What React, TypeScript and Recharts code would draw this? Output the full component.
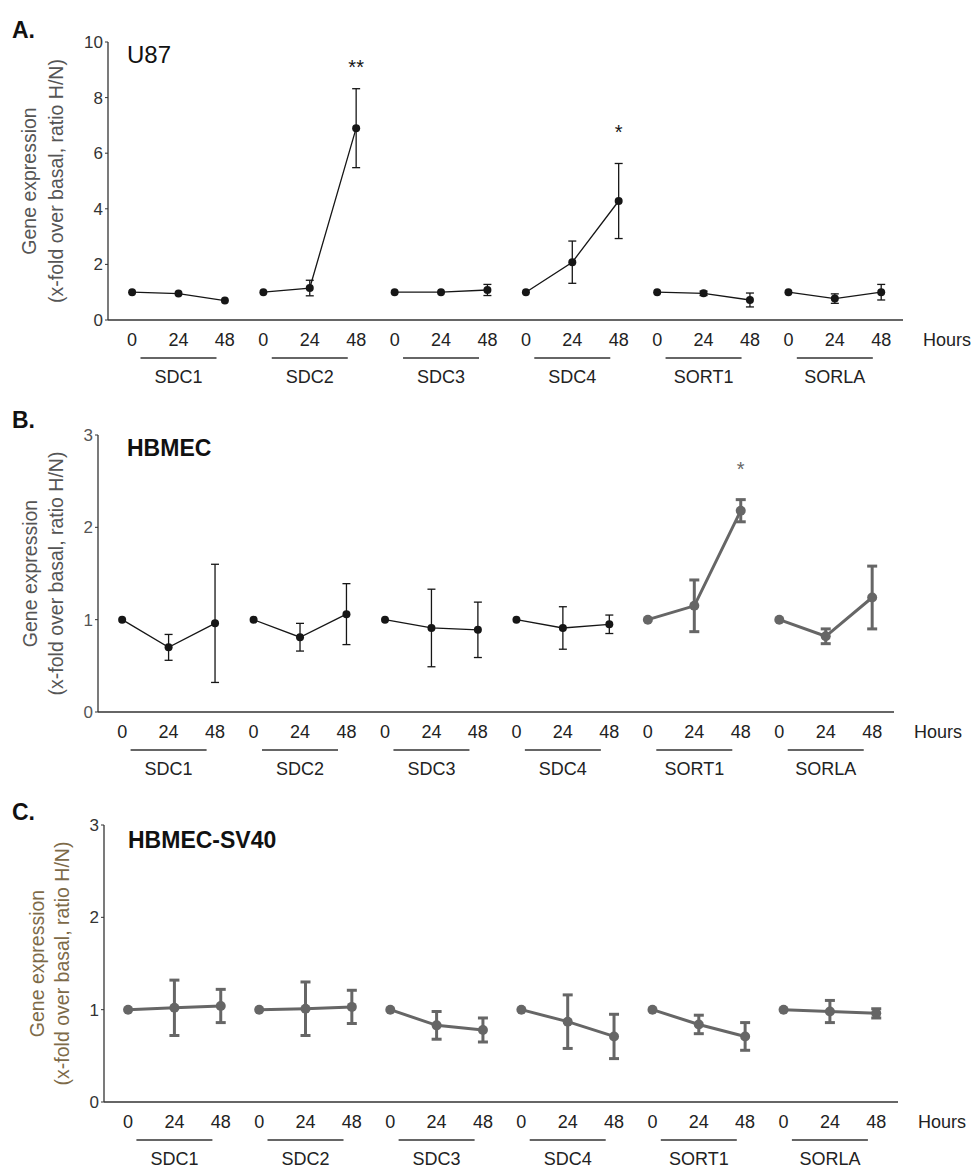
import React from "react"
import { LineChart, Line, XAxis, YAxis, ErrorBar, ReferenceDot } from "recharts"

const GENES = ["SDC1", "SDC2", "SDC3", "SDC4", "SORT1", "SORLA"]
const HOURS = [0, 24, 48]

// mean and SEM per gene (rows) at 0 / 24 / 48 h
const u87Mean = [[1.0, 0.95, 0.7], [1.0, 1.15, 6.9], [1.0, 1.0, 1.08], [1.0, 2.08, 4.28], [1.0, 0.96, 0.72], [1.0, 0.77, 1.0]]
const u87Err = [[0, 0, 0], [0, 0.28, 1.42], [0, 0, 0.2], [0, 0.76, 1.35], [0, 0.08, 0.25], [0, 0.17, 0.28]]
const hbmecMean = [[1.0, 0.7, 0.96], [1.0, 0.81, 1.06], [1.0, 0.91, 0.89], [1.0, 0.91, 0.95], [1.0, 1.15, 2.18], [1.0, 0.82, 1.24]]
const hbmecErr = [[0, 0.14, 0.64], [0, 0.15, 0.33], [0, 0.42, 0.3], [0, 0.23, 0.1], [0, 0.28, 0.12], [0, 0.08, 0.34]]
const sv40Mean = [[1.0, 1.02, 1.04], [1.0, 1.01, 1.03], [1.0, 0.83, 0.78], [1.0, 0.87, 0.71], [1.0, 0.84, 0.71], [1.0, 0.98, 0.96]]
const sv40Err = [[0, 0.3, 0.18], [0, 0.29, 0.18], [0, 0.15, 0.13], [0, 0.29, 0.24], [0, 0.1, 0.15], [0, 0.12, 0.05]]

const u87Stars = [{ gene: "SDC2", hour: 48, y: 9.25, text: "**" }, { gene: "SDC4", hour: 48, y: 6.9, text: "*" }]
const hbmecStars = [{ gene: "SORT1", hour: 48, y: 2.68, text: "*" }]

const GROUP_STEP = 2.83
const X_DOMAIN = [-0.52, 16.62]
const BLACK = "#161616"
const GREY = "#666666"
const FONT = "'Liberation Sans', Arial, sans-serif"

const xPos = (gi: number, hi: number) => gi * GROUP_STEP + hi

function buildRows(mean: number[][], err: number[][]) {
  const rows: Record<string, number>[] = []
  GENES.forEach((g, gi) =>
    HOURS.forEach((h, hi) => {
      rows.push({ x: xPos(gi, hi), hour: h, [g]: mean[gi][hi], [g + "_err"]: err[gi][hi] })
    })
  )
  return rows
}

function GroupTick(props: any) {
  const { x, y, payload } = props
  const gi = Math.floor(payload.value / GROUP_STEP + 0.01)
  const hi = Math.round(payload.value - gi * GROUP_STEP)
  return (
    <g>
      <text x={x} y={y + 20} textAnchor="middle" dominantBaseline="central" fontSize={18} fill="#222">
        {HOURS[hi]}
      </text>
      {hi === 1 && (
        <>
          <line x1={x - 38} x2={x + 38} y1={y + 38} y2={y + 38} stroke="#333" strokeWidth={1.5} />
          <text x={x} y={y + 57} textAnchor="middle" dominantBaseline="central" fontSize={18} fill="#222">
            {GENES[gi]}
          </text>
        </>
      )}
    </g>
  )
}

interface PanelCfg {
  top: number
  height: number
  plotTop: number
  plotBottom: number
  left: number
  right: number
  yDomain: number[]
  yTicks: number[]
  mean: number[][]
  err: number[][]
  stars: { gene: string; hour: number; y: number; text: string }[]
  greyFrom: number
  labelX: number[]
  labelColor: string
  tickColor: string
}

function Panel({ cfg }: { cfg: PanelCfg }) {
  const rows = buildRows(cfg.mean, cfg.err)
  const ticks = rows.map((r) => r.x)

  const yLabel = (p: any) => {
    const vb = p.viewBox
    const cy = vb.y + vb.height / 2
    const [x1, x2] = cfg.labelX
    return (
      <g fill={cfg.labelColor} fontSize={19.5}>
        <text x={x1} y={cy} transform={`rotate(-90, ${x1}, ${cy})`} textAnchor="middle" dominantBaseline="central">
          Gene expression
        </text>
        <text x={x2} y={cy} transform={`rotate(-90, ${x2}, ${cy})`} textAnchor="middle" dominantBaseline="central">
          (x-fold over basal, ratio H/N)
        </text>
      </g>
    )
  }

  const hoursLabel = (p: any) => {
    const vb = p.viewBox
    return (
      <text x={vb.x + vb.width + 20} y={vb.y + 20} dominantBaseline="central" fontSize={18} fill="#222">
        Hours
      </text>
    )
  }

  return (
    <div style={{ position: "absolute", left: 0, top: cfg.top }}>
      <LineChart
        width={978}
        height={cfg.height}
        data={rows}
        margin={{ top: cfg.plotTop, right: cfg.right, bottom: 0, left: 0 }}
      >
        <XAxis
          dataKey="x"
          type="number"
          domain={X_DOMAIN}
          ticks={ticks}
          interval={0}
          allowDataOverflow
          height={cfg.height - cfg.plotBottom}
          axisLine={{ stroke: "#333", strokeWidth: 1.5 }}
          tickLine={false}
          tickSize={0}
          tickMargin={0}
          tick={<GroupTick />}
          label={hoursLabel}
        />
        <YAxis
          type="number"
          domain={cfg.yDomain}
          ticks={cfg.yTicks}
          width={cfg.left}
          allowDataOverflow
          axisLine={{ stroke: "#333", strokeWidth: 1.3 }}
          tickLine={{ stroke: "#333" }}
          tickSize={3}
          tickMargin={2}
          tick={{ fontSize: 17, fill: cfg.tickColor }}
          label={yLabel}
        />
        {GENES.map((g, gi) => {
          const grey = gi >= cfg.greyFrom
          const color = grey ? GREY : BLACK
          const r = grey ? 5 : 4
          return (
            <Line
              key={g}
              dataKey={g}
              type="linear"
              stroke={color}
              strokeWidth={grey ? 3 : 1.3}
              isAnimationActive={false}
              dot={(p: any) =>
                p.cy == null ? <g key={p.key} /> : <circle key={p.key} cx={p.cx} cy={p.cy} r={r} fill={color} />
              }
              activeDot={false}
            >
              <ErrorBar dataKey={g + "_err"} width={grey ? 5 : 4} stroke={color} strokeWidth={grey ? 3 : 1.3} />
            </Line>
          )
        })}
        {cfg.stars.map((s, i) => {
          const gi = GENES.indexOf(s.gene)
          const hi = HOURS.indexOf(s.hour)
          const color = gi >= cfg.greyFrom ? GREY : BLACK
          return (
            <ReferenceDot
              key={i}
              x={xPos(gi, hi)}
              y={s.y}
              r={0}
              shape={(p: any) => (
                <text x={p.cx} y={p.cy + 11} textAnchor="middle" fontSize={20} fill={color}>
                  {s.text}
                </text>
              )}
            />
          )
        })}
      </LineChart>
    </div>
  )
}

const panels: PanelCfg[] = [
  {
    top: 0, height: 400, plotTop: 42, plotBottom: 320, left: 108, right: 75,
    yDomain: [0, 10], yTicks: [0, 2, 4, 6, 8, 10], mean: u87Mean, err: u87Err, stars: u87Stars,
    greyFrom: 6, labelX: [29, 56], labelColor: "#555", tickColor: "#333",
  },
  {
    top: 390, height: 400, plotTop: 45, plotBottom: 322, left: 98, right: 84,
    yDomain: [0, 3], yTicks: [0, 1, 2, 3], mean: hbmecMean, err: hbmecErr, stars: hbmecStars,
    greyFrom: 4, labelX: [30, 56], labelColor: "#555", tickColor: "#555",
  },
  {
    top: 780, height: 390, plotTop: 45, plotBottom: 322, left: 104, right: 80,
    yDomain: [0, 3], yTicks: [0, 1, 2, 3], mean: sv40Mean, err: sv40Err, stars: [],
    greyFrom: 0, labelX: [37, 62], labelColor: "#7d6a48", tickColor: "#333",
  },
]

export default function App() {
  return (
    <div style={{ position: "absolute", left: 0, top: 0, width: 978, height: 1170, background: "#fff", fontFamily: FONT }}>
      {panels.map((cfg, i) => (
        <Panel key={i} cfg={cfg} />
      ))}
      <svg width={978} height={1170} style={{ position: "absolute", left: 0, top: 0, pointerEvents: "none" }}>
        <g fontWeight="bold" fontSize={23} fill="#111">
          <text x={12} y={30} dominantBaseline="central">A.</text>
          <text x={12} y={420} dominantBaseline="central">B.</text>
          <text x={12} y={812} dominantBaseline="central">C.</text>
        </g>
        <text x={127} y={54} dominantBaseline="central" fontSize={24} fill="#111">U87</text>
        <text x={127} y={448} dominantBaseline="central" fontSize={23} fontWeight="bold" fill="#111">HBMEC</text>
        <text x={128} y={840} dominantBaseline="central" fontSize={23} fontWeight="bold" fill="#111">HBMEC-SV40</text>
      </svg>
    </div>
  )
}
